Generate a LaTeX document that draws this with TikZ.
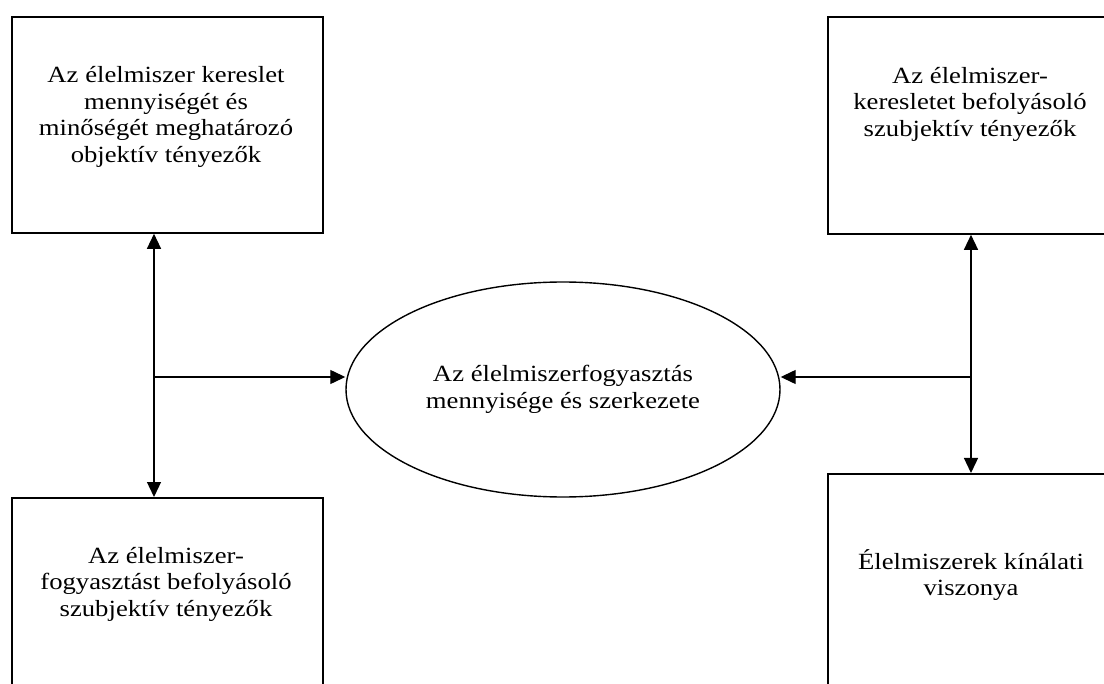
\documentclass[tikz,border=0pt]{standalone}
\usepackage{fontspec}
\setmainfont{Liberation Serif}[FakeStretch=1.15]
\usetikzlibrary{positioning}
\usetikzlibrary{arrows.meta}
\usetikzlibrary{shapes.geometric}

\tikzset{
	doboz/.style={draw, line width=0.9pt, anchor=north west, inner sep=0pt},
	felirat/.style={align=center, inner sep=0pt, font=\fontsize{11.6}{13.25}\selectfont},
	nyil/.style={line width=0.65pt, -{Triangle[length=7.5pt,width=7pt]}},
}

\begin{document}
\begin{tikzpicture}[x=0.5pt,y=-0.5pt]
		\useasboundingbox (0,0) rectangle (1104,684);

		% Define the boxes
		\node[doboz, minimum width=155.5pt, minimum height=108pt] (objektiv) at (11,16) {};
		\node[doboz, minimum width=155.5pt, minimum height=112pt] (fogyasztas) at (11,497) {};
		\node[doboz, minimum width=160pt, minimum height=108.5pt] (kereslet) at (827,16) {};
		\node[doboz, minimum width=160pt, minimum height=124pt] (kinalat) at (827,473) {};
		\node[draw, ellipse, line width=0.7pt, minimum width=217pt, minimum height=107.5pt, felirat] (fogy) at (563,389.5) {Az élelmiszerfogyasztás\\mennyisége és szerkezete};

		% Texts of the boxes
		\node[felirat] (objektivszoveg) at (166,117) {Az élelmiszer kereslet\\mennyiségét és\\minőségét meghatározó\\objektív tényezők};
		\node[felirat] (keresletszoveg) at (970,104) {Az élelmiszer-\\keresletet befolyásoló\\szubjektív tényezők};
		\node[felirat] (fogyasztasszoveg) at (166,584) {Az élelmiszer-\\fogyasztást befolyásoló\\szubjektív tényezők};
		\node[felirat] (kinalatszoveg) at (971,575) {Élelmiszerek kínálati\\viszonya};

		% Junction points
		\coordinate (bal) at (154,377);
		\coordinate (jobb) at (971,377);

		% Draw the arrows
		\draw[nyil] (bal) -- (objektiv.south -| bal);
		\draw[nyil] (bal) -- (fogyasztas.north -| bal);
		\draw[nyil] (bal) -- (fogy.west |- bal);
		\draw[nyil] (jobb) -- (kereslet.south -| jobb);
		\draw[nyil] (jobb) -- (kinalat.north -| jobb);
		\draw[nyil] (jobb) -- (fogy.east |- jobb);
\end{tikzpicture}
\end{document}
